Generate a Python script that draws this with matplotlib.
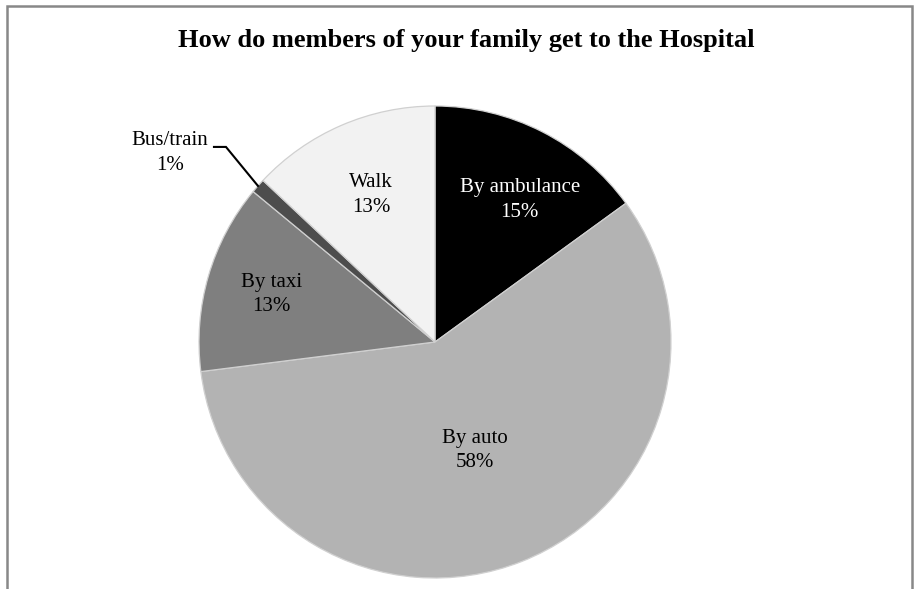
import numpy as np
import matplotlib
matplotlib.use("Agg")
import matplotlib.pyplot as plt
from matplotlib.patches import Rectangle

# Survey data
categories = ["By ambulance", "By auto", "By taxi", "Bus/train", "Walk"]
shares = [15, 58, 13, 1, 13]
colors = ["#000000", "#b3b3b3", "#7f7f7f", "#4d4d4d", "#f2f2f2"]
text_colors = ["white", "black", "black", "black", "black"]
title = "How do members of your family get to the Hospital"

W, H = 915, 589
plt.rcParams["font.family"] = ["Liberation Serif", "DejaVu Serif"]

fig = plt.figure(figsize=(W / 100, H / 100), dpi=100)
ax = fig.add_axes([0, 0, 1, 1])

cx, cy, r = 435, H - 342, 236
wedges, _ = ax.pie(shares, colors=colors, startangle=90, counterclock=False,
                   center=(cx, cy), radius=r, frame=True,
                   wedgeprops=dict(edgecolor="#d0d0d0", linewidth=0.9))
ax.set_xlim(0, W)
ax.set_ylim(0, H)
ax.set_aspect("equal")
ax.axis("off")

# Inside label placement: (fraction of radius along bisector, angle nudge in degrees)
label_pos = {"By ambulance": (0.70, -3.9), "By auto": (0.49, -1.5),
             "By taxi": (0.72, 0.0), "Walk": (0.68, 0.0)}

for w, name, val, tc in zip(wedges, categories, shares, text_colors):
    mid = np.deg2rad((w.theta1 + w.theta2) / 2)
    if name in label_pos:
        frac, nudge = label_pos[name]
        a = mid + np.deg2rad(nudge)
        d = frac * r
        x, y = cx + d * np.cos(a), cy + d * np.sin(a)
        ax.text(x, y, f"{name}\n{val}%", ha="center", va="center",
                fontsize=15, color=tc, linespacing=1.4)
    else:
        # small slice: label outside with a leader line
        ex, ey = cx + r * np.cos(mid), cy + r * np.sin(mid)
        kx, ky = ex - 32, ey + 39
        ax.plot([ex, kx, kx - 12], [ey, ky, ky], color="black", lw=1.5,
                solid_joinstyle="miter")
        ax.text(kx - 56, ky - 6, f"{name}\n{val}%", ha="center", va="center",
                fontsize=15, color="black", linespacing=1.4)

ax.text(466, H - 41, title, ha="center", va="center", fontsize=19,
        fontweight="bold")

# Chart frame
ax.add_patch(Rectangle((7, -20), 905, H - 6 + 20, fill=False,
                       edgecolor="#888888", linewidth=1.8, clip_on=False))

fig.savefig("out.png", dpi=100)
